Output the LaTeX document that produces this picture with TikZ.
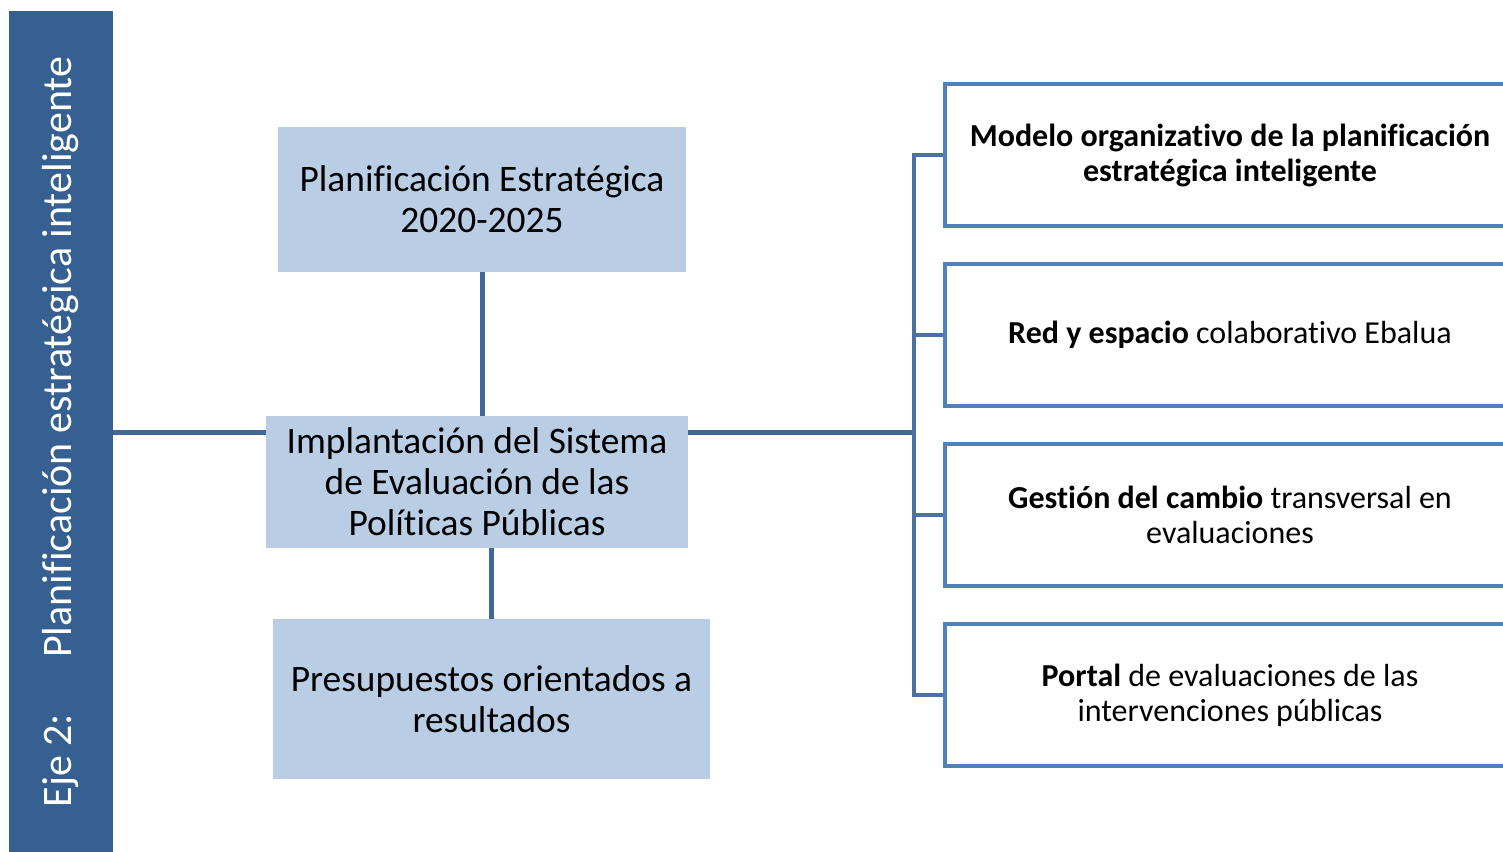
\documentclass[tikz,border=0pt]{standalone}
\usepackage{fontspec}
\setmainfont{Carlito}[Ligatures=NoCommon]
\usetikzlibrary{positioning}

\definecolor{barblue}{HTML}{376092}
\definecolor{boxfill}{HTML}{B9CDE5}
\definecolor{frameblue}{HTML}{4F81BD}
\definecolor{linkblue}{HTML}{3F6797}
\definecolor{brackblue}{HTML}{4A72A8}

\tikzset{
  axis bar/.style={fill=barblue,text=white,rotate=90,minimum width=421pt,minimum height=52pt,inner sep=0pt,font=\fontsize{21}{25}\selectfont},
  plan box/.style={fill=boxfill,align=center,inner sep=0pt,font=\fontsize{18.7}{20.5}\selectfont},
  item box/.style={draw=frameblue,line width=2pt,fill=white,align=center,minimum width=285pt,minimum height=71pt,inner sep=0pt,font=\fontsize{16}{17.5}\selectfont},
  link/.style={draw=linkblue,line width=2.5pt},
  branch/.style={draw=brackblue,line width=2.2pt}
}

\begin{document}
\begin{tikzpicture}[x=0.5pt,y=-0.5pt]
    \useasboundingbox (0,0) rectangle (1503,851);
    \clip (0,0) rectangle (1503,851);

    \node[axis bar] (bar) at (61,432) {Eje 2:\hspace{28pt}Planificación estratégica inteligente};

    \node[plan box,minimum width=204pt,minimum height=72.5pt] (plan) at (482,199.5) {Planificación Estratégica\\2020-2025};
    \node[plan box,minimum width=211pt,minimum height=66pt] (eval) at (477,482) {Implantación del Sistema\\de Evaluación de las\\Políticas Públicas};
    \node[plan box,minimum width=218.5pt,minimum height=80pt] (budget) at (491.5,699) {Presupuestos orientados a\\resultados};

    \node[item box] (model) at (1230,155) {\textbf{Modelo organizativo de la planificación}\\\textbf{estratégica inteligente}};
    \node[item box] (net) at (1230,335) {\textbf{Red y espacio} colaborativo Ebalua};
    \node[item box] (change) at (1230,515) {\textbf{Gestión del cambio} transversal en\\evaluaciones};
    \node[item box] (portal) at (1230,695) {\textbf{Portal} de evaluaciones de las\\intervenciones públicas};

    \coordinate (hub) at (914,432);

    \path[link] (bar.south) -- (eval.west |- bar.south);
    \path[link] (plan.south) -- (eval.north -| plan.south);
    \path[link] (eval.south -| budget.north) -- (budget.north);
    \path[link] (eval.east |- hub) -- (hub);

    \path[branch] (model.west) -| (hub) |- (portal.west);
    \path[branch] (net.west) -- (net.west -| hub);
    \path[branch] (change.west) -- (change.west -| hub);
\end{tikzpicture}
\end{document}
